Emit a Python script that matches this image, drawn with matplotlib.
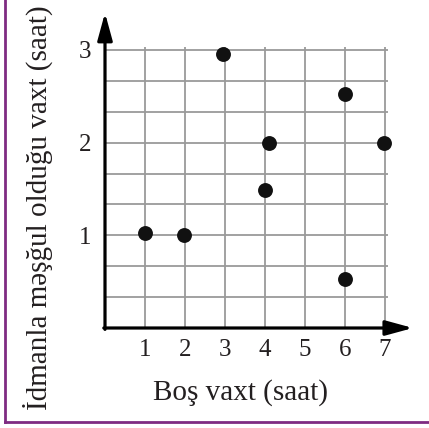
import matplotlib
matplotlib.use("Agg")
import matplotlib.pyplot as plt
import numpy as np
from matplotlib.lines import Line2D

# Data
free_time = [1.0, 1.98, 2.95, 4.0, 4.1, 6.0, 6.0, 6.98]
training_time = [1.02, 1.0, 2.96, 1.49, 2.0, 2.52, 0.53, 2.0]
x_ticks = [1, 2, 3, 4, 5, 6, 7]
x_tick_labels = ["1", "2", "3", "4", "5", "6", "7"]
y_ticks = [1, 2, 3]
y_tick_labels = ["1", "2", "3"]
x_label = "Boş vaxt (saat)"
y_label = "İdmanla məşğul olduğu vaxt (saat)"

plt.rcParams['font.family'] = ['Liberation Serif', 'DejaVu Serif']
W, H = 429, 428
fig = plt.figure(figsize=(W / 100, H / 100), dpi=100)

x0_px, y0_px = 105, 328      # origin pixel (from top)
xunit, yunit = 40.0, 92.7
xmax, ymax = 8.0, 3.5
ax = fig.add_axes([x0_px / W, (H - y0_px) / H, xmax * xunit / W, ymax * yunit / H])
ax.set_xlim(0, xmax)
ax.set_ylim(0, ymax)
for s in ax.spines.values():
    s.set_visible(False)

grid_color = "#9a9a9a"
ax.vlines(x_ticks, 0, 3.03, color=grid_color, lw=1.3, zorder=1)
hgrid = np.arange(1, 10) / 3.0
ax.hlines(hgrid, 0, 7.07, color=grid_color, lw=1.3, zorder=1)

arrow_style = "-|>,head_length=1.65,head_width=0.45"
ax.annotate("", xy=(7.7, 0), xytext=(-0.03, 0),
            arrowprops=dict(arrowstyle=arrow_style, color="black", mutation_scale=10,
                            lw=2.3, shrinkA=0, shrinkB=0), zorder=3)
ax.annotate("", xy=(0, 3.40), xytext=(0, -0.015),
            arrowprops=dict(arrowstyle=arrow_style, color="black", mutation_scale=10,
                            lw=2.3, shrinkA=0, shrinkB=0), zorder=3)

ax.scatter(free_time, training_time, s=115, color="#111111", zorder=4, linewidths=0)

text_color = "#231f20"
ax.set_xticks(x_ticks)
ax.set_xticklabels(x_tick_labels, fontsize=18, color=text_color)
ax.set_yticks(y_ticks)
ax.set_yticklabels(y_tick_labels, fontsize=18, color=text_color)
ax.tick_params(axis="x", length=0, pad=8)
ax.tick_params(axis="y", length=0, pad=10)

fig.text(240 / W, 1 - 393 / H, x_label, fontsize=21, color=text_color, ha="center", va="center")
fig.text(38 / W, 1 - 208 / H, y_label, fontsize=21, color=text_color, ha="center", va="center",
         rotation=90)

purple = "#7f2b82"
fig.add_artist(Line2D([5 / W, 5 / W], [1 - 422 / H, 1.0], transform=fig.transFigure,
                      color=purple, lw=2.0))
fig.add_artist(Line2D([5 / W, 1.0], [1 - 422 / H, 1 - 422 / H], transform=fig.transFigure,
                      color=purple, lw=2.0))

fig.savefig("out.png", dpi=100)
